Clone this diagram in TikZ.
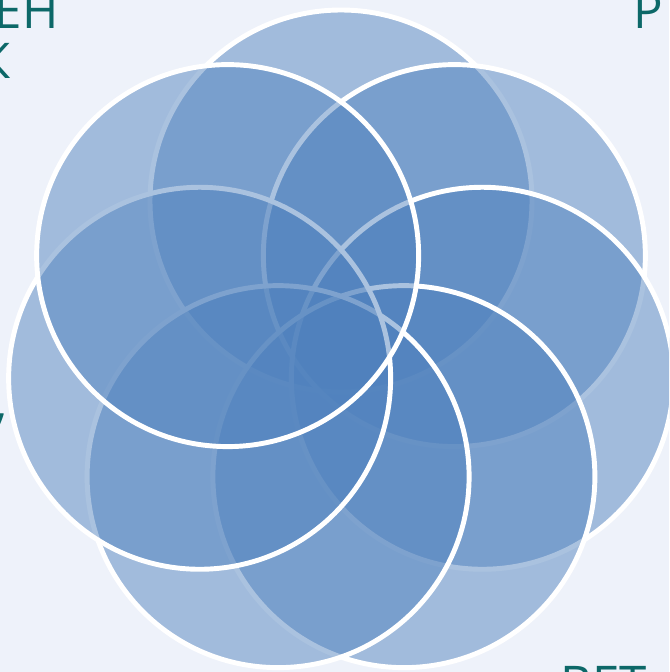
\documentclass[tikz,border=0pt]{standalone}
\usepackage{fontspec}
\setmainfont{Open Sans}
\usepackage{tikz}
\usetikzlibrary{calc,positioning}
\usepackage{xcolor}
\definecolor{pagebg}{RGB}{238,242,250}
\definecolor{petalblue}{RGB}{79,129,189}
\definecolor{labelteal}{RGB}{12,104,104}

\begin{document}
\begin{tikzpicture}[
    petal/.style={circle, draw=white, line width=2.8pt, fill=petalblue, fill opacity=0.48, draw opacity=1, minimum size=7.64cm, inner sep=0pt},
    label/.style={text=labelteal, font=\fontsize{28}{32}\selectfont, inner sep=0pt}
]
    \useasboundingbox (0,0) rectangle (13.38,13.44);
    \clip (0,0) rectangle (13.38,13.44);
    \fill[pagebg] (0,0) rectangle (13.38,13.44);

    % Petals, drawn clockwise from the top
    \coordinate (ctr) at (6.82,6.52);
    \foreach \a [count=\i] in {90,38.57,-12.86,-64.29,-115.71,-167.14,-218.57}
        \node[petal] (c\i) at ($(ctr)+(\a:2.9)$) {};

    % Labels (cut by the page edge)
    \node[label, anchor=base east] (eh) at (1.18,12.86) {ЕН};
    \node[label, anchor=base east] (k) at (0.22,11.86) {К};
    \node[label, anchor=base west] (p) at (12.66,12.86) {Р};
    \node[label, anchor=base east] (cm) at (0.16,5.04) {,};
    \node[label, anchor=base west] (vet) at (11.2,-0.6) {ВЕТ};
\end{tikzpicture}
\end{document}
